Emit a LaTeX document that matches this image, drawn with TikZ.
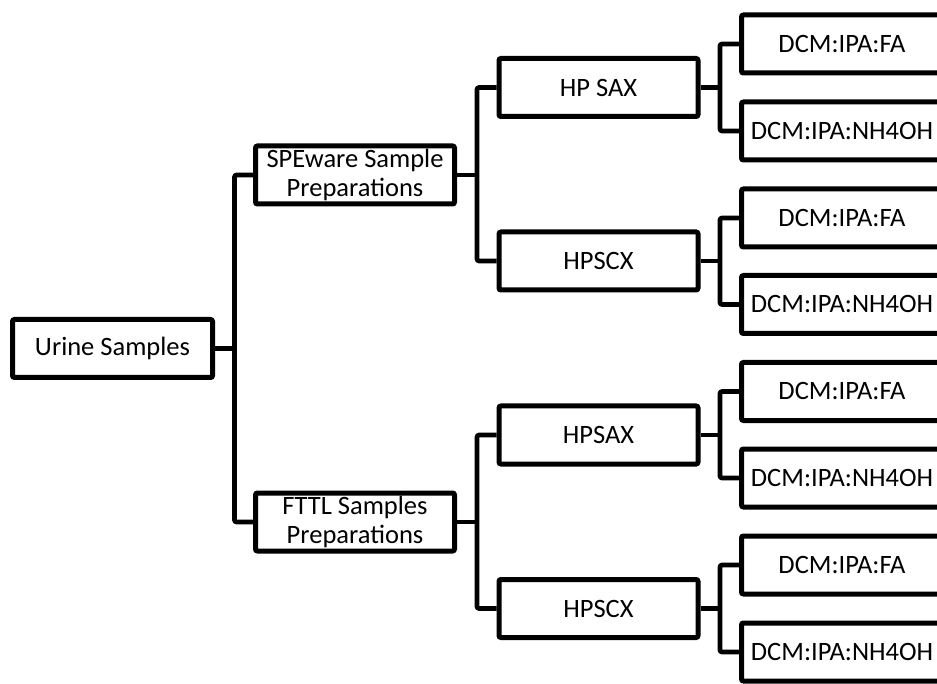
\documentclass[tikz,border=0pt]{standalone}
\usepackage{fontspec}
\setmainfont{Carlito}
\usetikzlibrary{calc}
\begin{document}
\begin{tikzpicture}[x=1pt,y=-1pt,
  box/.style={draw=black, line width=5pt, rounded corners=2pt, inner sep=0pt,
    minimum height=58pt, align=center, font=\fontsize{26.5}{29}\selectfont},
  rootbox/.style={box, minimum width=200pt},
  midbox/.style={box, minimum width=199pt},
  leafbox/.style={box, minimum width=201pt},
  conn/.style={draw=black, line width=4.6pt, rounded corners=2pt}]
\useasboundingbox (0,0) rectangle (937,684);
\clip (0,0) rectangle (937,684);
\fill[white] (0,0) rectangle (937,684);
% nodes
\node[rootbox] (root) at (112.5,348.5) {Urine Samples};
\node[midbox] (spe) at (355,175) {SPEware Sample\\Preparations};
\node[midbox] (fttl) at (355,522) {FTTL Samples\\Preparations};
\node[midbox] (hpsax1) at (598.5,87.5) {HP SAX};
\node[midbox] (hpscx1) at (598.5,261) {HPSCX};
\node[midbox] (hpsax2) at (598.5,435) {HPSAX};
\node[midbox] (hpscx2) at (598.5,608.5) {HPSCX};
\node[leafbox] (l1) at (842,44) {DCM:IPA:FA};
\node[leafbox] (l2) at (842,131) {DCM:IPA:NH4OH};
\node[leafbox] (l3) at (842,218) {DCM:IPA:FA};
\node[leafbox] (l4) at (842,304.5) {DCM:IPA:NH4OH};
\node[leafbox] (l5) at (842,391.5) {DCM:IPA:FA};
\node[leafbox] (l6) at (842,478) {DCM:IPA:NH4OH};
\node[leafbox] (l7) at (842,565) {DCM:IPA:FA};
\node[leafbox] (l8) at (842,652) {DCM:IPA:NH4OH};
% junctions
\coordinate (j0) at ($(root.east)+(19.5,0)$);
\coordinate (j1) at ($(spe.east)+(20,0)$);
\coordinate (j2) at ($(fttl.east)+(20,0)$);
\coordinate (j3) at ($(hpsax1.east)+(19.5,0)$);
\coordinate (j4) at ($(hpscx1.east)+(19.5,0)$);
\coordinate (j5) at ($(hpsax2.east)+(19.5,0)$);
\coordinate (j6) at ($(hpscx2.east)+(19.5,0)$);
% connectors
\draw[conn] (root.east) -- (j0);
\draw[conn] (spe.west) -| (j0) |- (fttl.west);
\draw[conn] (spe.east) -- (j1);
\draw[conn] (hpsax1.west) -| (j1) |- (hpscx1.west);
\draw[conn] (fttl.east) -- (j2);
\draw[conn] (hpsax2.west) -| (j2) |- (hpscx2.west);
\draw[conn] (hpsax1.east) -- (j3);
\draw[conn] (l1.west) -| (j3) |- (l2.west);
\draw[conn] (hpscx1.east) -- (j4);
\draw[conn] (l3.west) -| (j4) |- (l4.west);
\draw[conn] (hpsax2.east) -- (j5);
\draw[conn] (l5.west) -| (j5) |- (l6.west);
\draw[conn] (hpscx2.east) -- (j6);
\draw[conn] (l7.west) -| (j6) |- (l8.west);
\end{tikzpicture}
\end{document}
